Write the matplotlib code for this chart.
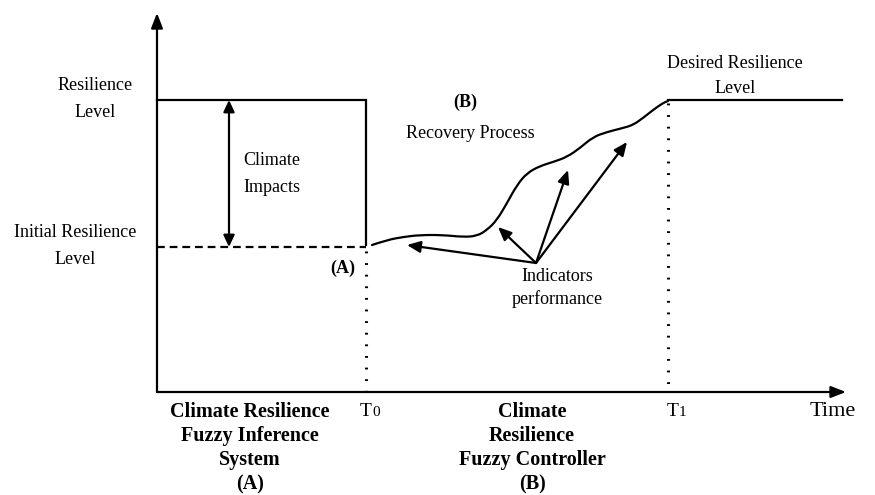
import matplotlib
matplotlib.use("Agg")
import matplotlib.pyplot as plt
from matplotlib.path import Path
from matplotlib.patches import PathPatch

plt.rcParams['font.family'] = ['Liberation Serif', 'DejaVu Serif']

# ---- data (abstract diagram units) ----
resilience_level = 29.2
initial_level = 14.5
T0 = 20.9
T1 = 51.1
time_end = 68.9
level_top = 37.9
desired_end = 68.5
impact_x = 7.2

recovery_t = [21.5, 23.0, 24.6, 26.3, 28.6, 30.6, 32.0, 33.0, 34.0, 35.0, 36.0, 37.0,
              38.3, 39.6, 41.0, 42.3, 43.6, 45.0, 46.6, 47.6, 48.6, 49.6, 50.6, 51.1]
recovery_level = [14.7, 15.2, 15.5, 15.7, 15.7, 15.5, 15.6, 16.2, 17.2, 18.9, 20.7, 21.9,
                  22.6, 23.0, 23.5, 24.4, 25.5, 26.0, 26.4, 26.7, 27.4, 28.2, 28.9, 29.1]

indicator_origin = (37.9, 12.9)
indicator_tips_t = [25.0, 34.1, 41.1, 47.0]
indicator_tips_level = [14.7, 16.5, 22.2, 25.0]

fig = plt.figure(figsize=(8.75, 4.95), dpi=100)
ax = fig.add_axes([0, 0, 1, 1])
ax.set_xlim(-15.7, 71.8)
ax.set_ylim(-10.3, 39.2)
ax.axis('off')

lw = 1.6
# axes arrows
ax.annotate('', xy=(0, level_top), xytext=(0, 0),
            arrowprops=dict(arrowstyle='-|>,head_length=0.9,head_width=0.35', lw=lw, color='black',
                            shrinkA=0, shrinkB=0))
ax.annotate('', xy=(time_end, 0), xytext=(0, 0),
            arrowprops=dict(arrowstyle='-|>,head_length=0.9,head_width=0.35', lw=lw, color='black',
                            shrinkA=0, shrinkB=0))

# resilience level and drop
ax.plot([0, T0, T0], [resilience_level, resilience_level, initial_level + 0.2], color='black', lw=lw,
        solid_joinstyle='miter')
ax.plot([0, T0], [initial_level, initial_level], color='black', lw=lw, ls=(0, (3.5, 2.2)))
ax.plot([T0, T0], [initial_level - 0.4, 0], color='black', lw=2.2, ls=(0, (0.6, 3.2)))
ax.plot([T1, T1], [resilience_level - 0.3, 0], color='black', lw=2.2, ls=(0, (0.6, 3.2)))
ax.plot([T1, desired_end], [resilience_level, resilience_level], color='black', lw=lw)

# recovery curve, smoothed with quadratic bezier segments through midpoints
pts = list(zip(recovery_t, recovery_level))
verts = [pts[0]]
codes = [Path.MOVETO]
for i in range(1, len(pts) - 1):
    mid = ((pts[i][0] + pts[i + 1][0]) / 2, (pts[i][1] + pts[i + 1][1]) / 2)
    verts += [pts[i], mid]
    codes += [Path.CURVE3, Path.CURVE3]
verts.append(pts[-1])
codes.append(Path.LINETO)
ax.add_patch(PathPatch(Path(verts, codes), facecolor='none', edgecolor='black', lw=lw,
                       capstyle='round'))

# climate impacts double arrow
ax.annotate('', xy=(impact_x, resilience_level), xytext=(impact_x, initial_level),
            arrowprops=dict(arrowstyle='<|-|>,head_length=0.7,head_width=0.33', lw=lw, color='black',
                            shrinkA=0, shrinkB=0))

# indicator arrows
for tx, ty in zip(indicator_tips_t, indicator_tips_level):
    ax.annotate('', xy=(tx, ty), xytext=indicator_origin,
                arrowprops=dict(arrowstyle='-|>,head_length=0.8,head_width=0.35', lw=lw, color='black',
                                shrinkA=0, shrinkB=0))

fs = 13
ls2 = 1.7
ax.text(-6.2, 29.3, 'Resilience\nLevel', ha='center', va='center', fontsize=fs, linespacing=ls2)
ax.text(11.5, 21.8, 'Climate\nImpacts', ha='center', va='center', fontsize=fs, linespacing=ls2)
ax.text(-8.2, 14.6, 'Initial Resilience\nLevel', ha='center', va='center', fontsize=fs, linespacing=ls2)
ax.text(18.6, 12.4, '(A)', ha='center', va='center', fontsize=fs, fontweight='bold')
ax.text(30.8, 29.0, '(B)', ha='center', va='center', fontsize=fs, fontweight='bold')
ax.text(31.3, 25.8, 'Recovery Process', ha='center', va='center', fontsize=fs)
ax.text(57.8, 31.6, 'Desired Resilience\nLevel', ha='center', va='center', fontsize=fs, linespacing=1.6)
ax.text(40.0, 10.4, 'Indicators\nperformance', ha='center', va='center', fontsize=fs, linespacing=1.3)

bfs = 14.5
ax.text(9.3, -5.6, 'Climate Resilience\nFuzzy Inference\nSystem\n(A)', ha='center', va='center',
        fontsize=bfs, fontweight='bold', linespacing=1.28)
ax.text(37.5, -5.6, 'Climate\nResilience\nFuzzy Controller\n(B)', ha='center', va='center',
        fontsize=bfs, fontweight='bold', linespacing=1.28)

ax.text(T0 + 0.6, -1.9, 'T', ha='right', va='center', fontsize=14)
ax.text(T0 + 0.6, -2.1, '0', ha='left', va='center', fontsize=11)
ax.text(T1 + 1.1, -1.9, 'T', ha='right', va='center', fontsize=14)
ax.text(T1 + 1.1, -2.1, '1', ha='left', va='center', fontsize=11)
ax.text(67.6, -1.9, 'Time', ha='center', va='center', fontsize=16)

fig.savefig('out.png', dpi=100)
